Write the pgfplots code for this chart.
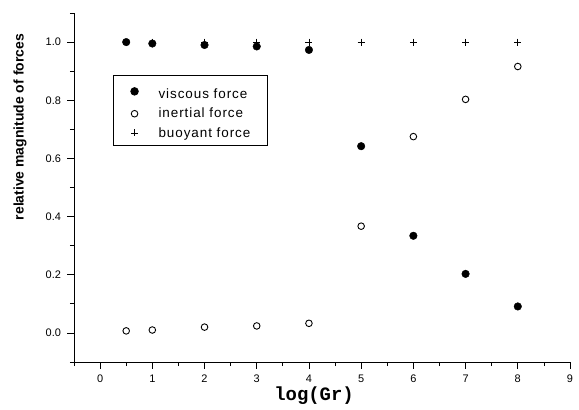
\documentclass[border=0pt]{standalone}
\usepackage{fontspec}
\setmainfont{Liberation Sans}
\newfontfamily\labmono{Liberation Mono}
\newfontfamily\legfont[LetterSpace=7]{Liberation Sans}
\usepackage{pgfplots}
\pgfplotsset{compat=1.18}
\begin{document}
\begin{tikzpicture}[x=1bp,y=1bp]
\path[use as bounding box] (-74bp,-48bp) rectangle (505bp,362bp);
\begin{axis}[
  scale only axis,
  width=496bp, height=349bp,
  xmin=-0.5, xmax=9, ymin=-0.1, ymax=1.1,
  axis lines*=left,
  axis line style={line width=0.9pt},
  tick align=outside,
  major tick length=6.5bp, minor tick length=4bp,
  every tick/.style={black, line width=0.8pt},
  xtick={0,1,...,9}, minor xtick={-0.5,0.5,1.5,...,8.5},
  ytick={0,0.2,...,1.0}, minor ytick={-0.1,0.1,0.3,...,1.1},
  /pgf/number format/assume math mode=true,
  yticklabel style={/pgf/number format/fixed, /pgf/number format/fixed zerofill, /pgf/number format/precision=1, font=\fontsize{11}{12}\selectfont, xshift=-3bp},
  xticklabel style={font=\fontsize{11}{12}\selectfont, yshift=-3bp},
  xlabel={\labmono\bfseries\fontsize{19}{20}\selectfont log(Gr)},
  ylabel={\bfseries\fontsize{14}{15}\selectfont relative magnitude of forces},
  xlabel style={at={(rel axis cs:0.484,0)}, anchor=center, yshift=-34bp},
  ylabel style={at={(axis description cs:-0.109,0.673)}, anchor=center},
  legend style={at={(axis cs:0.25,0.886)}, anchor=north west, draw=black, line width=0.8pt, font=\legfont\fontsize{13.5}{14}\selectfont, inner xsep=3bp, inner ysep=5bp, row sep=4bp},
  legend cell align=left,
  legend image code/.code={\path[draw=none] (0bp,0bp) -- (40bp,0bp); \draw[#1] plot coordinates {(18bp,0bp)};},
]
\addplot[only marks, mark=*, mark size=3.8bp, black, mark options={fill=black}] coordinates {
(0.5,1.0) (1,0.995) (2,0.99) (3,0.985) (4,0.973) (5,0.642) (6,0.334) (7,0.203) (8,0.091)};
\addlegendentry{\rule{0pt}{16bp}viscous force\hspace*{15bp}}
\addplot[only marks, mark=o, mark size=3.3bp, black, mark options={line width=0.9pt}] coordinates {
(0.5,0.007) (1,0.01) (2,0.02) (3,0.024) (4,0.033) (5,0.367) (6,0.675) (7,0.803) (8,0.916)};
\addlegendentry{inertial force}
\addplot[only marks, mark=+, mark size=3.5bp, black, mark options={line width=0.8pt}] coordinates {
(0.5,1.0) (1,1.0) (2,1.0) (3,1.0) (4,1.0) (5,1.0) (6,1.0) (7,1.0) (8,1.0)};
\addlegendentry{buoyant force}
\end{axis}
\end{tikzpicture}
\end{document}
